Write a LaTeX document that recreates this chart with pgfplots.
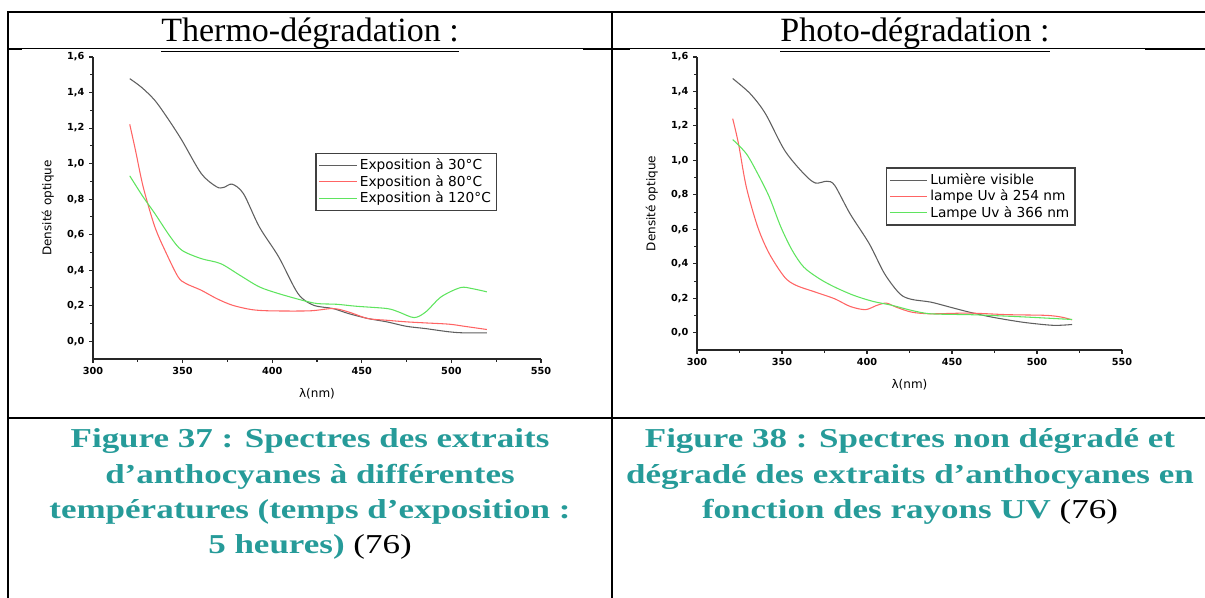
\documentclass[border=0pt]{standalone}
\usepackage{fontspec}
\setmainfont{Liberation Serif}
\newfontfamily\capfont[FakeStretch=1.28]{Liberation Serif}
\newfontfamily\chartfont{DejaVu Sans}
\usepackage{pgfplots}
\pgfplotsset{compat=1.18}
\definecolor{capteal}{RGB}{38,155,153}
\definecolor{cgray}{RGB}{95,95,95}
\definecolor{cred}{RGB}{255,100,100}
\definecolor{cgreen}{RGB}{95,228,95}
\pgfplotsset{specstyle/.style={
  scale only axis, anchor=south west,
  xmin=300, xmax=550, ymin=-0.1, ymax=1.6,
  axis x line*=bottom, axis y line*=left,
  axis line style={line width=1pt, black!85},
  xtick={300,350,400,450,500,550},
  ytick={0,0.2,0.4,0.6,0.8,1.0,1.2,1.4,1.6},
  minor x tick num=1, minor y tick num=1,
  tick align=outside, major tick length=3pt, minor tick length=2pt,
  every tick/.style={black!85, line width=0.8pt},
  /pgf/number format/assume math mode=true,
  yticklabel style={/pgf/number format/.cd, fixed, fixed zerofill, precision=1, use comma},
  xticklabel style={/pgf/number format/.cd, fixed, precision=0, 1000 sep={}},
  ticklabel style={font=\chartfont\bfseries\fontsize{7.3}{8}\selectfont},
  label style={font=\chartfont\fontsize{9}{10}\selectfont},
  xlabel={λ(nm)}, ylabel={Densité optique},
  xlabel style={yshift=-3pt}, ylabel style={yshift=3pt},
  legend cell align=left,
  legend image code/.code={\draw[##1] (0pt,0pt) -- (28pt,0pt);},
  legend style={font=\chartfont\fontsize{10.3}{12}\selectfont, draw=black!75, line width=1pt,
    inner sep=2.2pt, row sep=-1.4pt, anchor=north west},
}}
\begin{document}
\begin{tikzpicture}[x=0.75pt,y=0.75pt]
\useasboundingbox (0,0) rectangle (1205,598);
% table lines
\draw[line width=1.5pt] (7.5,586) -- (1205,586);
\draw[line width=1.5pt] (8,586.5) -- (8,0);
\draw[line width=1.5pt] (612,586.5) -- (612,0);
\draw[line width=1.5pt] (8,180) -- (1205,180);
\draw[line width=0.75pt] (8,549) -- (1205,549);
\draw[line width=1.5pt] (8,549) -- (22,549);
\draw[line width=1.5pt] (583,549) -- (630,549);
\draw[line width=1.5pt] (1145,549) -- (1205,549);
% titles
\node[anchor=base, font=\fontsize{25.5}{28}\selectfont] at (310,556) {\underline{Thermo-dégradation :}};
\node[anchor=base, font=\fontsize{25.5}{28}\selectfont] at (915,556) {\underline{Photo-dégradation :}};
% captions
\begin{scope}[every node/.style={anchor=base, text=capteal, font=\capfont\bfseries\fontsize{20.5}{24}\selectfont}]
\node at (310,150) {Figure 37 : Spectres des extraits};
\node at (310,114) {d’anthocyanes à différentes};
\node at (310,79) {températures (temps d’exposition :};
\node at (310,44) {5 heures) {\color{black}\mdseries (76)}};
\node at (910,150) {Figure 38 : Spectres non dégradé et};
\node at (910,114) {dégradé des extraits d’anthocyanes en};
\node at (910,79) {fonction des rayons UV {\color{black}\mdseries (76)}};
\end{scope}
% left chart
\begin{axis}[specstyle, at={(69.75pt,179.25pt)}, width=336pt, height=226.5pt,
  legend style={at={(axis cs:424,1.061)}}]
\addplot[cgray, line width=0.8pt, smooth] coordinates {
(320.5,1.478) (327,1.43) (334.5,1.356) (342,1.25) (349.6,1.131) (360.4,0.944) (369,0.869) (373,0.866)
(377.7,0.884) (384,0.83) (392.8,0.644) (403.6,0.475) (414.4,0.268) (423,0.203) (433.9,0.184)
(442.5,0.156) (453.3,0.128) (464,0.109) (474.9,0.084) (485.7,0.071) (498.7,0.053) (507.3,0.047) (519.8,0.047)};
\addlegendentry{Exposition à 30°C}
\addplot[cred, line width=0.8pt, smooth] coordinates {
(320.5,1.221) (323.7,1.075) (328,0.869) (334.5,0.644) (341,0.493) (347.5,0.362) (351.8,0.325)
(360.4,0.287) (369,0.24) (377.7,0.203) (388.5,0.178) (399.3,0.171) (420.9,0.171) (433.9,0.184)
(442.5,0.165) (453.3,0.128) (464,0.118) (475,0.109) (485.7,0.103) (498.7,0.096) (507.3,0.084) (519.8,0.066)};
\addlegendentry{Exposition à 80°C}
\addplot[cgreen, line width=0.8pt, smooth] coordinates {
(320.5,0.931) (328,0.812) (334.5,0.719) (343.2,0.587) (349.6,0.512) (360.4,0.465) (371.2,0.437)
(382,0.371) (392.8,0.306) (403.6,0.268) (416.6,0.231) (425.2,0.212) (436,0.208) (446.8,0.197)
(464,0.184) (470.5,0.165) (479.2,0.133) (485.7,0.165) (494.3,0.25) (505.1,0.302) (511.6,0.296) (519.8,0.278)};
\addlegendentry{Exposition à 120°C}
\end{axis}
% right chart
\begin{axis}[specstyle, at={(522.75pt,186pt)}, width=318.75pt, height=219.75pt,
  legend style={at={(axis cs:411,0.96)}}]
\addplot[cgray, line width=0.8pt, smooth] coordinates {
(321,1.475) (331.2,1.388) (340.2,1.272) (351.5,1.059) (362.8,0.923) (369.6,0.869) (376.4,0.879)
(381,0.855) (390,0.691) (401.3,0.517) (410.3,0.343) (419.3,0.226) (426.1,0.194) (437.4,0.178)
(448.7,0.149) (460,0.12) (471.3,0.095) (482.6,0.075) (494,0.058) (509.8,0.043) (520.6,0.048)};
\addlegendentry{Lumière visible}
\addplot[cred, line width=0.8pt, smooth] coordinates {
(321,1.242) (324.4,1.097) (329,0.846) (335.7,0.614) (342.5,0.459) (351.5,0.323) (358.3,0.275)
(369.6,0.236) (381,0.197) (390,0.153) (399,0.134) (405.8,0.159) (411.4,0.172) (417.1,0.149)
(426.1,0.12) (437.4,0.11) (460,0.114) (482.6,0.105) (505.2,0.101) (514.3,0.091) (520.6,0.075)};
\addlegendentry{lampe Uv à 254 nm}
\addplot[cgreen, line width=0.8pt, smooth] coordinates {
(321,1.121) (329,1.039) (335.7,0.923) (342.5,0.788) (349.3,0.614) (356,0.478) (362.8,0.381)
(371.9,0.314) (381,0.265) (392.2,0.217) (403.5,0.182) (414.8,0.159) (426.1,0.13) (437.4,0.11)
(460,0.105) (471.3,0.101) (494,0.091) (520.6,0.077)};
\addlegendentry{Lampe Uv à 366 nm}
\end{axis}
\end{tikzpicture}
\end{document}
